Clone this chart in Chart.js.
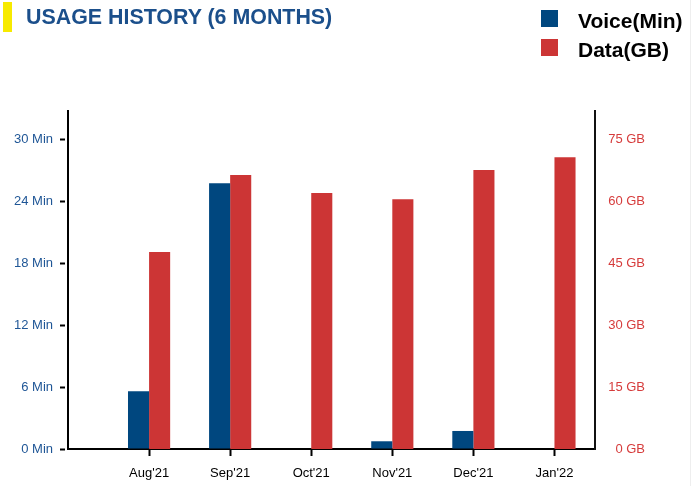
<!DOCTYPE html>
<html>
<head>
<meta charset="utf-8">
<script src="https://cdn.jsdelivr.net/npm/chart.js@4.4.1/dist/chart.umd.min.js"></script>
<style>
  html, body { margin: 0; padding: 0; background: #fff; }
  body { width: 698px; height: 486px; position: relative; overflow: hidden; font-family: "Liberation Sans", Arial, sans-serif; }
  #wrap { position: absolute; left: 0; top: 0; width: 698px; height: 486px; }
  .bar { position: absolute; left: 3px; top: 2px; width: 9px; height: 30px; background: #f7ea00; }
  .title { position: absolute; left: 26px; top: 5px; font-size: 21.4px; font-weight: bold; color: #1b4f8b; white-space: nowrap; }
  #legend { position: absolute; left: 541px; top: 10px; font-size: 21px; font-weight: bold; color: #000; }
  #legend div { height: 29px; position: relative; white-space: nowrap; }
  #legend span.box { position: absolute; left: 0; top: 0; width: 17px; height: 17px; }
  #legend span.txt { position: absolute; left: 37px; top: -1px; }
  .edge { position: absolute; left: 690px; top: 0; width: 1px; height: 486px; background: #eeeeee; }
</style>
</head>
<body>
<div id="wrap"><canvas id="chartUso" width="698" height="486"></canvas></div>
<div class="bar"></div>
<div class="title">USAGE HISTORY (6 MONTHS)</div>
<div id="legend"></div>
<div class="edge"></div>
<script>
const meses = ["Aug'21", "Sep'21", "Oct'21", "Nov'21", "Dec'21", "Jan'22"];
const voz = [5.6, 25.8, 0, 0.75, 1.75, 0];
const datos = [47.8, 66.5, 62.1, 60.6, 67.7, 70.8];
const ticksMin = [0, 6, 12, 18, 24, 30];
const ticksGB = [0, 15, 30, 45, 60, 75];

const azul = '#00477f';
const rojo = '#cc3535';

const ctx = document.getElementById('chartUso');

const chart = new Chart(ctx, {
  type: 'bar',
  data: {
    datasets: [{
      label: 'Voice(Min)',
      data: voz.map((v, i) => ({ x: i, y: v })),
      backgroundColor: azul,
      yAxisID: 'yMin',
      categoryPercentage: 0.52,
      barPercentage: 1.0
    }, {
      label: 'Data(GB)',
      data: datos.map((v, i) => ({ x: i, y: v })),
      backgroundColor: rojo,
      yAxisID: 'yGB',
      categoryPercentage: 0.52,
      barPercentage: 1.0
    }]
  },
  options: {
    responsive: false,
    animation: false,
    layout: { padding: { left: 13, right: 53, top: 111, bottom: 0 } },
    plugins: {
      legend: { display: false },
      tooltip: { enabled: false }
    },
    scales: {
      x: {
        type: 'linear',
        min: -1,
        max: 5.5,
        offset: false,
        afterBuildTicks: (s) => { s.ticks = meses.map((m, i) => ({ value: i })); },
        afterFit: (s) => { s.height = 37; },
        ticks: {
          callback: (v) => meses[v],
          color: '#000',
          font: { family: 'Liberation Sans', size: 13 },
          padding: 10,
          maxRotation: 0,
          autoSkip: false
        },
        grid: { offset: false, drawOnChartArea: false, drawTicks: true, tickLength: 7, tickColor: '#000', tickWidth: 2 },
        border: { color: '#000', width: 2 }
      },
      yMin: {
        position: 'left',
        min: 0,
        max: 32.8,
        afterBuildTicks: (s) => { s.ticks = ticksMin.map(v => ({ value: v })); },
        afterFit: (s) => { s.width = 55; },
        ticks: {
          callback: (v) => v + ' Min',
          color: '#1f5696',
          font: { family: 'Liberation Sans', size: 13 },
          padding: 7
        },
        grid: { drawOnChartArea: false, drawTicks: true, tickLength: 8, tickColor: '#000', tickWidth: 2, tickBorderDash: [5, 3] },
        border: { color: '#000', width: 2 }
      },
      yGB: {
        position: 'right',
        min: 0,
        max: 82,
        afterBuildTicks: (s) => { s.ticks = ticksGB.map(v => ({ value: v })); },
        afterFit: (s) => { s.width = 50; },
        ticks: {
          callback: (v) => v + ' GB',
          color: '#d63c3c',
          font: { family: 'Liberation Sans', size: 13 },
          padding: 13,
          crossAlign: 'far'
        },
        grid: { display: false, drawTicks: false },
        border: { color: '#111', width: 2 }
      }
    }
  }
});

// leyenda en HTML con los colores de los datasets
const leyenda = document.getElementById('legend');
chart.data.datasets.forEach(ds => {
  const fila = document.createElement('div');
  fila.innerHTML = '<span class="box" style="background:' + ds.backgroundColor + '"></span><span class="txt">' + ds.label + '</span>';
  leyenda.appendChild(fila);
});
</script>
</body>
</html>
